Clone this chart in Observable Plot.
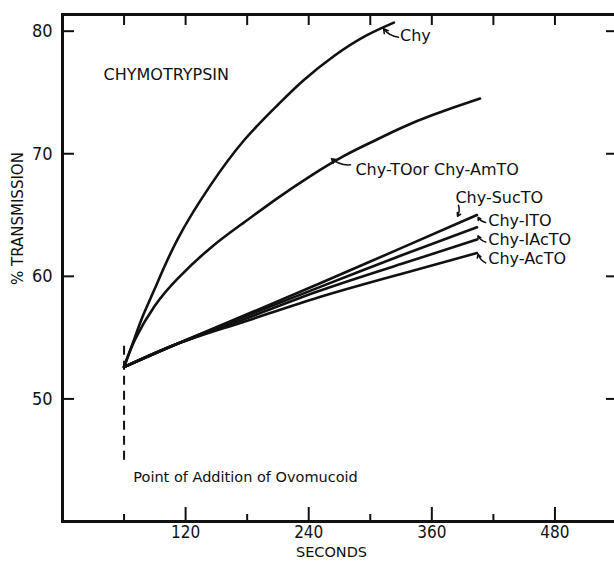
<!DOCTYPE html>
<html><head><meta charset="utf-8">
<script src="https://cdn.jsdelivr.net/npm/d3@7"></script>
<script src="https://cdn.jsdelivr.net/npm/@observablehq/plot@0.6"></script>
<style>body{margin:0;background:#fff}</style>
</head><body><div id="chart"></div>
<script>
// Time (seconds) and % transmission for each series
const tChy = [60, 70, 79, 90, 112, 144, 177, 210, 235, 265, 295, 323];
const vChy = [52.6, 54.9, 56.9, 59.0, 63.0, 67.4, 71.1, 74.0, 76.0, 78.0, 79.6, 80.7];
const tTO = [60, 71, 90, 112, 144, 177, 210, 242, 274, 300, 330, 362, 407];
const vTO = [52.6, 54.9, 57.6, 59.8, 62.3, 64.4, 66.4, 68.2, 69.8, 70.9, 72.1, 73.2, 74.5];
const tLow = [60, 112, 177, 250, 330, 404];
const vSucTO = [52.6, 54.5, 56.8, 59.4, 62.3, 65.0];
const vITO = [52.6, 54.5, 56.7, 59.1, 61.7, 64.0];
const vIAcTO = [52.6, 54.5, 56.5, 58.8, 61.0, 63.0];
const vAcTO = [52.6, 54.5, 56.3, 58.3, 60.2, 61.9];

const yTicks = [50, 60, 70, 80];
const xMajor = [120, 240, 360, 480];
const xMinor = [60, 180, 300, 420];
const xTop = [60, 120, 180, 240, 300, 360, 420, 480];

// point of addition of ovomucoid
const addTime = 60;
const dashY = [45.0, 54.6];

// series labels (data coordinates of label start)
const labelText = ["Chy", "Chy-TOor Chy-AmTO", "Chy-SucTO", "Chy-ITO", "Chy-IAcTO", "Chy-AcTO"];
const labelX = [329, 285.5, 383, 415, 415, 415];
const labelY = [79.6, 68.7, 66.4, 64.5, 63.0, 61.4];
// pointer arrows from label to curve
const arrX1 = [327.5, 280.7, 386, 412.5, 412.5, 412.5];
const arrY1 = [79.5, 69.1, 65.8, 64.4, 62.8, 61.1];
const arrX2 = [313, 262.2, 385, 405, 405, 405];
const arrY2 = [80.2, 69.6, 64.9, 64.8, 63.3, 61.8];

const series = [
  ["Chy", tChy, vChy], ["Chy-TO", tTO, vTO], ["Chy-SucTO", tLow, vSucTO],
  ["Chy-ITO", tLow, vITO], ["Chy-IAcTO", tLow, vIAcTO], ["Chy-AcTO", tLow, vAcTO]
];
const rows = series.flatMap(([s, ts, vs]) => ts.map((t, i) => ({series: s, t, v: vs[i]})));
const labels = labelText.map((text, i) => ({text, x: labelX[i], y: labelY[i]}));
const arrows = arrX1.map((x1, i) => ({x1, y1: arrY1[i], x2: arrX2[i], y2: arrY2[i]}));

const numFont = "'Liberation Sans Narrow', 'DejaVu Sans Condensed', sans-serif";
const txtFont = "'DejaVu Sans', sans-serif";

const W = 614, H = 564, mL = 62, mR = -2, mT = 14, mB = 43;
const fw = W - mL - mR, fh = H - mT - mB; // frame size in px

const plot = Plot.plot({
  width: W, height: H,
  marginLeft: mL, marginRight: mR, marginTop: mT, marginBottom: mB,
  x: {domain: [0, 540]},
  y: {domain: [40, 81.36]},
  style: {background: "#fff", color: "#111"},
  marks: [
    Plot.frame({stroke: "#111", strokeWidth: 3}),
    // inward ticks
    Plot.tickY(yTicks, {y: d => d, insetRight: fw - 12, stroke: "#111", strokeWidth: 2}),
    Plot.tickY(yTicks, {y: d => d, insetLeft: fw - 10, stroke: "#111", strokeWidth: 2}),
    Plot.tickX(xTop, {x: d => d, insetBottom: fh - 11, stroke: "#111", strokeWidth: 2}),
    Plot.tickX(xMajor, {x: d => d, insetTop: fh - 14, stroke: "#111", strokeWidth: 2}),
    Plot.tickX(xMinor, {x: d => d, insetTop: fh - 7, stroke: "#111", strokeWidth: 2}),
    // tick labels
    Plot.axisY(yTicks, {anchor: "left", tickSize: 0, tickPadding: 10, fontSize: 18, fontFamily: numFont, label: null}),
    Plot.axisX(xMajor, {anchor: "bottom", tickSize: 0, tickPadding: 4, fontSize: 17, fontFamily: numFont, label: null}),
    Plot.text(["SECONDS"], {frameAnchor: "bottom", dy: 35, dx: -8, fontSize: 14.5, fontFamily: txtFont, letterSpacing: 2, fill: "#111"}),
    Plot.text(["% TRANSMISSION"], {frameAnchor: "left", rotate: -90, dx: -44, dy: 17, fontSize: 15, fontFamily: txtFont, letterSpacing: 3.5, fill: "#111"}),
    Plot.text(["CHYMOTRYPSIN"], {x: 40, y: 76.4, textAnchor: "start", fontSize: 16, fontFamily: txtFont, letterSpacing: 3.5, fill: "#111"}),
    Plot.text(["Point of Addition of Ovomucoid"], {x: 69, y: 43.6, textAnchor: "start", fontSize: 14.5, fontFamily: txtFont, letterSpacing: 0.9, fill: "#111"}),
    Plot.ruleX([addTime], {y1: dashY[0], y2: dashY[1], stroke: "#111", strokeWidth: 2, strokeDasharray: "9,6"}),
    Plot.line(rows, {x: "t", y: "v", z: "series", curve: "natural", stroke: "#111", strokeWidth: 2.6}),
    Plot.arrow(arrows, {x1: "x1", y1: "y1", x2: "x2", y2: "y2", bend: true, headLength: 5, stroke: "#111", strokeWidth: 1.5}),
    Plot.text(labels, {x: "x", y: "y", text: "text", textAnchor: "start", fontSize: 16, fontFamily: txtFont, letterSpacing: 1.3, fill: "#111"})
  ]
});
document.getElementById("chart").appendChild(plot);
</script>
</body></html>
